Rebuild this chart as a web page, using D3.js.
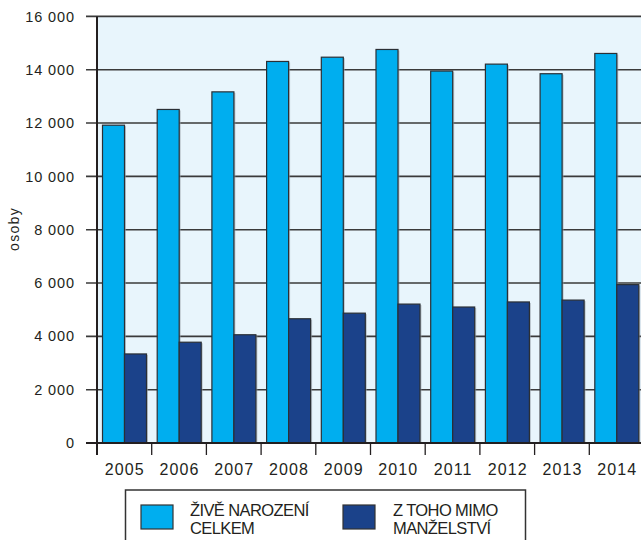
<!DOCTYPE html>
<html><head><meta charset="utf-8">
<script src="https://cdn.jsdelivr.net/npm/d3@7"></script>
<style>
html,body{margin:0;padding:0;background:#fff;}
text{font-family:"Liberation Sans",Arial,sans-serif;fill:#231f20;}
</style></head>
<body>
<svg id="c" width="641" height="540"></svg>
<script>
const years = ["2005","2006","2007","2008","2009","2010","2011","2012","2013","2014"];
const liveBirths = [11920,12510,13170,14310,14470,14760,13950,14210,13850,14610];
const outsideMarriage = [3340,3780,4060,4660,4870,5210,5100,5290,5360,5940];
const yTicks = [0,2000,4000,6000,8000,10000,12000,14000,16000];
const seriesNames = [["ŽIVĚ NAROZENÍ","CELKEM"],["Z TOHO MIMO","MANŽELSTVÍ"]];
const colors = ["#00aeef","#1b428a"];
const yLabel = "osoby";

const svg = d3.select("#c");
const mLeft = 97, mBottom = 443, mTop = 16.4, bandW = 54.7;
const x = d3.scaleBand().domain(years).range([mLeft, mLeft + bandW*years.length]).padding(0);
const xs = d3.scaleBand().domain([0,1]).range([5.5, 49.5]).padding(0);
const y = d3.scaleLinear().domain([0,16000]).range([mBottom, mTop]);

// background
svg.append("rect").attr("x",mLeft).attr("y",y(16000)).attr("width",641-mLeft).attr("height",mBottom-y(16000)).attr("fill","#e8f5fc");

// gridlines + y ticks
const fmt = v => d3.format(",")(v).replace(/,/g," ");
const yAxis = d3.axisLeft(y).tickValues(yTicks).tickSize(0).tickFormat(fmt);
svg.selectAll("line.grid").data(yTicks).join("line")
  .attr("x1",86).attr("x2",641).attr("y1",d=>y(d)).attr("y2",d=>y(d))
  .attr("stroke","#3a3a3a").attr("stroke-width",1.6);
const ga = svg.append("g").attr("transform",`translate(${mLeft-19},0)`).call(yAxis);
ga.select(".domain").remove();
ga.selectAll("text").attr("font-size","14.5px").attr("fill","#231f20").attr("font-family","Liberation Sans, Arial, sans-serif").attr("letter-spacing","0.9px");

// bars
const data = years.map((yr,i)=>({yr, vals:[liveBirths[i], outsideMarriage[i]]}));
const g = svg.append("g");
data.forEach(d=>{
  d.vals.forEach((v,k)=>{
    g.append("rect").attr("x",x(d.yr)+xs(k)+1.5).attr("y",y(v)+1).attr("width",xs.bandwidth()).attr("height",mBottom-y(v)-1)
      .attr("fill","#9aa3aa").attr("opacity",0.6);
    g.append("rect").attr("x",x(d.yr)+xs(k)).attr("y",y(v)).attr("width",xs.bandwidth()).attr("height",mBottom-y(v))
      .attr("fill",colors[k]).attr("stroke","#2a2f35").attr("stroke-width",1.2);
  });
});

// axes lines
svg.append("line").attr("x1",mLeft).attr("x2",mLeft).attr("y1",y(16000)).attr("y2",455).attr("stroke","#231f20").attr("stroke-width",2);
svg.append("line").attr("x1",86).attr("x2",641).attr("y1",mBottom).attr("y2",mBottom).attr("stroke","#231f20").attr("stroke-width",1.8);
const bounds = years.map(yy=>x(yy)).concat([x(years[years.length-1])+bandW]);
svg.selectAll("line.xt").data(bounds).join("line")
  .attr("x1",d=>d).attr("x2",d=>d).attr("y1",mBottom).attr("y2",455)
  .attr("stroke","#231f20").attr("stroke-width",1.3);
svg.selectAll("text.yr").data(years).join("text")
  .attr("x",d=>x(d)+bandW/2+0.5).attr("y",475).attr("text-anchor","middle")
  .attr("font-size","16px").attr("letter-spacing","1.1px").text(d=>d);

// y label
svg.append("text").attr("transform","translate(19,229) rotate(-90)").attr("text-anchor","middle")
  .attr("font-size","14px").attr("letter-spacing","1.3px").text(yLabel);

// legend
svg.append("rect").attr("x",125.5).attr("y",490).attr("width",400).attr("height",60)
  .attr("fill","#fff").attr("stroke","#333").attr("stroke-width",1.5);
const lx = [141, 343], tx = [190, 393];
seriesNames.forEach((nm,k)=>{
  svg.append("rect").attr("x",lx[k]).attr("y",505).attr("width",32).attr("height",24)
    .attr("fill",colors[k]).attr("stroke","#333").attr("stroke-width",1.2);
  const t = svg.append("text").attr("x",tx[k]).attr("y",516).attr("font-size","16.5px").attr("letter-spacing","-0.6px");
  nm.forEach((line,j)=>t.append("tspan").attr("x",tx[k]).attr("dy",j?17.5:0).text(line));
});
</script>
</body></html>
